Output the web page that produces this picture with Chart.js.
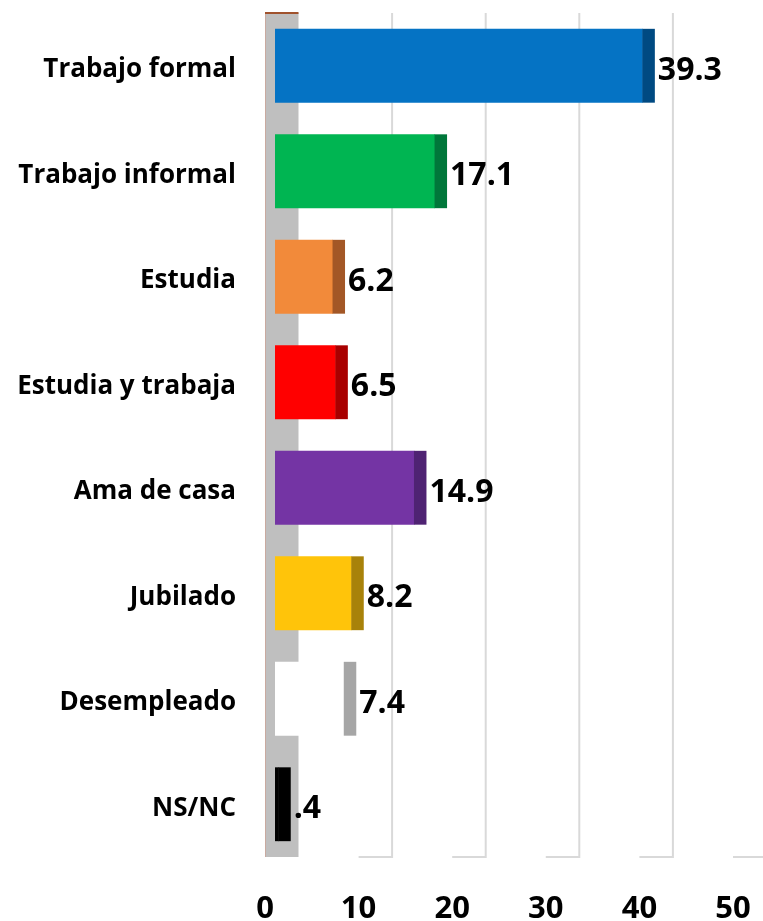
<!DOCTYPE html>
<html lang="es">
<head>
<meta charset="UTF-8">
<title>Situación laboral</title>
<script src="https://cdn.jsdelivr.net/npm/chart.js@4.4.1/dist/chart.umd.min.js"></script>
<style>
  body, html {
    margin: 0;
    padding: 0;
    background: #ffffff;
  }
  #chart-canvas {
    display: block;
  }
</style>
</head>
<body>
<canvas id="chart-canvas" width="763" height="921"></canvas>
<script>
const categories = ['Trabajo formal', 'Trabajo informal', 'Estudia', 'Estudia y trabaja', 'Ama de casa', 'Jubilado', 'Desempleado', 'NS/NC'];
const values = [39.3, 17.1, 6.2, 6.5, 14.9, 8.2, 7.4, 0.4];
const valueLabels = ['39.3', '17.1', '6.2', '6.5', '14.9', '8.2', '7.4', '.4'];
const frontColors = ['#0573c4', '#00b552', '#f28a3a', '#ff0000', '#7434a4', '#ffc40a', '#ffffff', '#000000'];
const sideColors = ['#004a82', '#00773a', '#a35726', '#a80000', '#4f2373', '#a8820a', '#a6a6a6', '#000000'];
const xTicks = [0, 10, 20, 30, 40, 50];

// fake 3d depth, in pixels, measured from where the bars start
const FRONT = -10;
const BACK = 23.5;
const SIDE = 12;
const FONT = "'Open Sans', 'Noto Sans', sans-serif";

// side wall, back gridlines and floor ticks, drawn behind the bars
const wallPlugin = {
  id: 'wall3d',
  beforeDatasetsDraw(chart) {
    const ctx = chart.ctx;
    const xs = chart.scales.x;
    const area = chart.chartArea;
    const x0 = xs.getPixelForValue(0);

    ctx.save();
    ctx.fillStyle = '#bfbfbf';
    ctx.fillRect(x0 + FRONT, area.top, BACK - FRONT, area.bottom - area.top);

    ctx.strokeStyle = '#c9aaa0';
    ctx.lineWidth = 1;
    ctx.beginPath();
    ctx.moveTo(x0 + FRONT + 0.5, area.top);
    ctx.lineTo(x0 + FRONT + 0.5, area.bottom);
    ctx.stroke();

    ctx.strokeStyle = '#a0522d';
    ctx.lineWidth = 2;
    ctx.beginPath();
    ctx.moveTo(x0 + FRONT, area.top);
    ctx.lineTo(x0 + BACK, area.top);
    ctx.stroke();

    ctx.strokeStyle = '#d9d9d9';
    ctx.lineWidth = 2;
    xTicks.forEach(v => {
      if (v === 0) return;
      const x = xs.getPixelForValue(v);
      ctx.beginPath();
      ctx.moveTo(x + BACK, area.top);
      ctx.lineTo(x + BACK, area.bottom);
      ctx.lineTo(x + FRONT, area.bottom);
      ctx.stroke();
    });
    ctx.restore();
  }
};

// dark right face of each bar plus its value
const sidePlugin = {
  id: 'side3d',
  afterDatasetsDraw(chart) {
    const ctx = chart.ctx;
    const meta = chart.getDatasetMeta(0);
    ctx.save();
    meta.data.forEach((bar, i) => {
      const h = bar.height;
      ctx.fillStyle = sideColors[i];
      ctx.fillRect(bar.x - 0.5, bar.y - h / 2, SIDE + 0.5, h);

      ctx.fillStyle = '#000000';
      ctx.font = 'bold 32px ' + FONT;
      ctx.textAlign = 'left';
      ctx.textBaseline = 'middle';
      ctx.fillText(valueLabels[i], bar.x + SIDE + 3, bar.y + 5);
    });
    ctx.restore();
  }
};

const ctx = document.getElementById('chart-canvas').getContext('2d');
const chart = new Chart(ctx, {
  type: 'bar',
  data: {
    labels: categories,
    datasets: [{
      data: values,
      backgroundColor: frontColors,
      borderWidth: 0,
      categoryPercentage: 1,
      barPercentage: 0.7
    }]
  },
  options: {
    indexAxis: 'y',
    responsive: false,
    animation: false,
    layout: {
      padding: { top: 13, right: 20, left: 0, bottom: 0 }
    },
    plugins: {
      legend: { display: false },
      tooltip: { enabled: false }
    },
    scales: {
      x: {
        min: 0,
        max: 50,
        grid: { display: false, drawTicks: false },
        border: { display: false },
        ticks: {
          stepSize: 10,
          color: '#000000',
          font: { family: FONT, size: 31, weight: 'bold' },
          labelOffset: FRONT,
          padding: 34,
          maxRotation: 0
        },
        afterFit(scale) {
          // fixed height, and no extra room asked for the end labels
          scale.height = 64;
          scale.paddingLeft = 0;
          scale.paddingRight = 0;
        }
      },
      y: {
        grid: { display: false, drawTicks: false },
        border: { display: false },
        ticks: {
          color: '#000000',
          font: { family: FONT, size: 26, weight: 'bold' },
          padding: 39,
          labelOffset: 4
        },
        afterFit(scale) {
          scale.width = 275;
          scale.paddingTop = 0;
          scale.paddingBottom = 0;
        }
      }
    }
  },
  plugins: [wallPlugin, sidePlugin]
});
</script>
</body>
</html>
